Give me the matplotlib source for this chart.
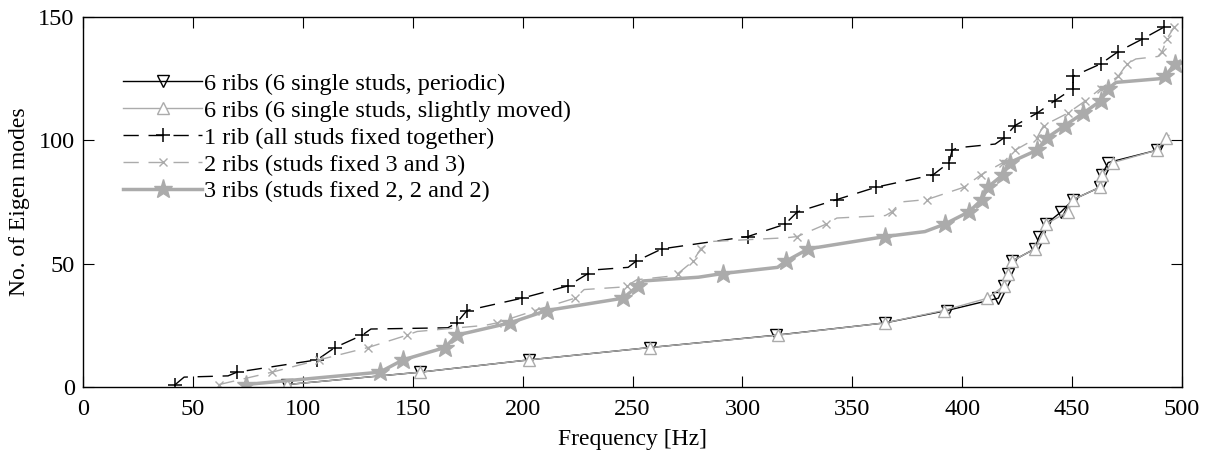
import numpy as np
import matplotlib
matplotlib.use('Agg')
import matplotlib.pyplot as plt

# eigenfrequencies (Hz) vs cumulative mode number
# markers sit on every 5th mode (1, 6, 11, ...), extra points trace the flat steps
periodic_freq = [93, 153.3, 203, 258, 315.3, 365, 393, 416.4, 419, 420.8, 422.6, 433, 435,
                 438, 445, 450.5, 462.7, 463.6, 466.4, 488.6, 492]
periodic_modes = [1, 6, 11, 16, 21, 26, 31, 36, 41, 46, 51, 56, 61, 66, 71, 76, 81, 86, 91, 96, 99]

moved_freq = [93, 153.3, 203, 258, 316, 365, 391.5, 411.5, 419, 420.8, 422.6, 433, 436.8,
              438, 448, 450.5, 462.7, 463.6, 468.6, 488.6, 492.7, 494]
moved_modes = [1, 6, 11, 16, 21, 26, 31, 36, 41, 46, 51, 56, 61, 66, 71, 76, 81, 86, 91, 96, 101, 102]

rib1_freq = [42, 46, 66, 70, 106.5, 114.6, 127, 131, 166, 170, 174.7, 199.7, 220.7, 229.8,
             233, 248, 251.6, 263.4, 302.5, 319.4, 325, 343, 360.8, 386.7, 394, 395.4,
             398, 415, 419, 424, 434, 442, 450.4, 450.5, 463, 471, 481.8, 492]
rib1_modes = [1, 4, 4.5, 6, 11, 16, 21, 23.5, 24, 26, 31, 36, 41, 46,
              47.5, 48.5, 51, 56, 61, 66, 71, 76, 81, 86, 91, 96,
              97, 98.5, 101, 106, 111, 116, 121, 126, 131, 136, 141, 146]

rib2_freq = [62, 86, 107.4, 129.7, 147.4, 152, 183, 188.4, 205.6, 223.8, 228, 245, 247.5,
             252, 268, 270.7, 277.5, 281, 286, 320, 325, 338, 343, 365, 368, 372, 384,
             400.8, 408.5, 418.6, 424, 434, 437, 448, 456, 463, 471, 475, 479, 489, 491,
             493, 496.5]
rib2_modes = [1, 6, 11, 16, 21, 22.5, 25, 26, 31, 36, 39.5, 40.5, 41,
              43.5, 45, 46, 51, 56, 59, 60.5, 61, 66, 68.5, 69.5, 71, 75, 76,
              81, 86, 91, 96, 101, 106, 111, 116, 121, 126, 131, 133, 134, 136,
              141, 146]

rib3_freq = [74, 135, 145.6, 164.7, 170, 194.3, 211, 245.7, 252.5, 255, 280, 291, 316,
             319.8, 330, 365, 383, 392, 403, 409, 411.6, 418.5, 421.6, 434, 438.5, 446.7,
             455, 463, 466.4, 470, 490, 492.3, 496.8, 499]
rib3_modes = [1, 6, 11, 16, 21, 26, 31, 36, 41, 43, 44.5, 46, 48.5,
              51, 56, 61, 63, 66, 71, 76, 81, 86, 91, 96, 101, 106,
              111, 116, 121, 123.5, 125, 126, 131, 132]

labels = ['6 ribs (6 single studs, periodic)',
          '6 ribs (6 single studs, slightly moved)',
          '1 rib (all studs fixed together)',
          '2 ribs (studs fixed 3 and 3)',
          '3 ribs (studs fixed 2, 2 and 2)']

plt.rcParams['font.family'] = ['Liberation Serif', 'DejaVu Serif']
plt.rcParams['font.size'] = 17.5

GRAY = '#ababab'


def marker_idx(modes):
    # only the integer modes 1, 6, 11, ... carry a marker
    return [i for i, m in enumerate(modes) if float(m).is_integer() and int(m) % 5 == 1]


fig = plt.figure(figsize=(12.08, 4.55), dpi=100)
ax = fig.add_axes([0.0687, 0.1495, 0.9098, 0.8131])

ax.plot(periodic_freq, periodic_modes, color='k', lw=1.0, marker='v', ms=8,
        mfc='none', mec='k', mew=1.0, markevery=marker_idx(periodic_modes), label=labels[0])
ax.plot(moved_freq, moved_modes, color=GRAY, lw=1.0, marker='^', ms=9,
        mfc='white', mec=GRAY, mew=1.0, markevery=marker_idx(moved_modes), label=labels[1])
ax.plot(rib1_freq, rib1_modes, color='k', lw=1.0, dashes=(11, 7), marker='+', ms=10,
        mew=1.1, markevery=marker_idx(rib1_modes), label=labels[2])
ax.plot(rib2_freq, rib2_modes, color=GRAY, lw=1.0, dashes=(11, 7), marker='x', ms=5.5,
        mew=1.0, markevery=marker_idx(rib2_modes), label=labels[3])
ax.plot(rib3_freq, rib3_modes, color=GRAY, lw=2.5, marker='*', ms=14,
        mfc=GRAY, mec=GRAY, markevery=marker_idx(rib3_modes), label=labels[4])

ax.set_xlim(0, 500)
ax.set_ylim(0, 150)
ax.set_xticks(np.arange(0, 501, 50))
ax.set_yticks([0, 50, 100, 150])
ax.tick_params(direction='in', top=True, right=True, length=8, width=0.8, pad=6)
ax.tick_params(axis='x', pad=9)
for sp in ax.spines.values():
    sp.set_linewidth(1.0)

ax.set_xlabel('Frequency [Hz]', fontsize=17, labelpad=6)
ax.set_ylabel('No. of Eigen modes', fontsize=17, labelpad=6)

leg = ax.legend(loc='upper left', bbox_to_anchor=(0.028, 0.875), frameon=False,
                handlelength=3.25, handletextpad=0.08, labelspacing=0.2,
                borderaxespad=0.0, numpoints=1)

fig.savefig('out.png', dpi=100)
